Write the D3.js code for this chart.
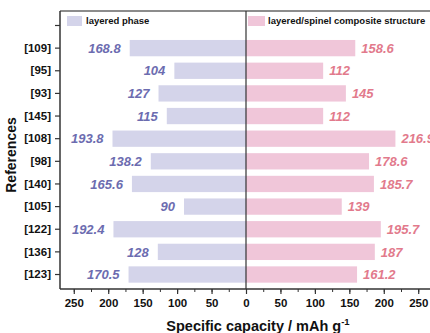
<!DOCTYPE html>
<html>
<head>
<meta charset="utf-8">
<script src="https://cdn.jsdelivr.net/npm/d3@7"></script>
<style>
  body { margin: 0; background: #fff; }
  text { font-family: "Liberation Sans", Arial, sans-serif; font-weight: bold; }
</style>
</head>
<body>
<div id="chart"></div>
<script>
// references, top to bottom (first slot is empty, legend sits there)
const refs = ['', '[109]', '[95]', '[93]', '[145]', '[108]', '[98]', '[140]', '[105]', '[122]', '[136]', '[123]'];
const layered = [null, 168.8, 104, 127, 115, 193.8, 138.2, 165.6, 90, 192.4, 128, 170.5];
const composite = [null, 158.6, 112, 145, 112, 216.9, 178.6, 185.7, 139, 195.7, 187, 161.2];
const xTicks = [-250, -200, -150, -100, -50, 0, 50, 100, 150, 200, 250];
const seriesNames = ['layered phase', 'layered/spinel composite structure'];

const width = 430, height = 333;
const margin = { top: 11, left: 60, bottom: 44 };

const svg = d3.select('#chart').append('svg')
  .attr('width', width)
  .attr('height', height);

const x = d3.scaleLinear()
  .domain([-270, 270])
  .range([margin.left, margin.left + 372]);

const y = d3.scaleBand()
  .domain(refs.map((d, i) => i))
  .range([margin.top, height - margin.bottom])
  .padding(0.28);

const rows = refs.map((r, i) => ({ i: i, ref: r, a: layered[i], b: composite[i] })).filter(d => d.a != null);

// bars
svg.selectAll('.barA').data(rows).enter().append('rect')
  .attr('x', d => x(-d.a))
  .attr('y', d => y(d.i))
  .attr('width', d => x(0) - x(-d.a))
  .attr('height', y.bandwidth())
  .attr('fill', '#d4d4ea');

svg.selectAll('.barB').data(rows).enter().append('rect')
  .attr('x', x(0))
  .attr('y', d => y(d.i))
  .attr('width', d => x(d.b) - x(0))
  .attr('height', y.bandwidth())
  .attr('fill', '#f0c6d9');

// value labels
svg.selectAll('.labA').data(rows).enter().append('text')
  .attr('x', d => x(-d.a) - 9)
  .attr('y', d => y(d.i) + y.bandwidth() / 2)
  .attr('dy', '0.36em')
  .attr('text-anchor', 'end')
  .attr('font-style', 'italic')
  .attr('font-size', 13)
  .attr('fill', '#6c6cb0')
  .text(d => d.a);

svg.selectAll('.labB').data(rows).enter().append('text')
  .attr('x', d => x(d.b) + 6)
  .attr('y', d => y(d.i) + y.bandwidth() / 2)
  .attr('dy', '0.36em')
  .attr('font-style', 'italic')
  .attr('font-size', 13)
  .attr('fill', '#e27a8c')
  .text(d => d.b);

// frame top
svg.append('line')
  .attr('x1', margin.left).attr('x2', width)
  .attr('y1', margin.top).attr('y2', margin.top)
  .attr('stroke', '#666').attr('stroke-width', 1.5);

// zero line
svg.append('line')
  .attr('x1', x(0)).attr('x2', x(0))
  .attr('y1', margin.top).attr('y2', height - margin.bottom)
  .attr('stroke', '#333').attr('stroke-width', 1.2);

// bottom axis
const bottom = svg.append('g')
  .attr('transform', 'translate(0,' + (height - margin.bottom) + ')');

bottom.call(d3.axisBottom(x).tickValues(d3.range(-250, 251, 25)).tickSize(3).tickFormat(''))
  .call(g => g.select('.domain').remove())
  .selectAll('line').attr('stroke', '#333');

bottom.append('g')
  .call(d3.axisBottom(x).tickValues(xTicks).tickSize(5).tickPadding(5).tickFormat(d => Math.abs(d)))
  .call(g => g.select('.domain').remove())
  .call(g => g.selectAll('line').attr('stroke', '#333').attr('stroke-width', 1.2))
  .call(g => g.selectAll('text').attr('font-size', 11.5).attr('fill', '#111'));

bottom.append('line')
  .attr('x1', margin.left).attr('x2', width)
  .attr('stroke', '#333').attr('stroke-width', 1.5);

// left axis
const left = svg.append('g')
  .attr('transform', 'translate(' + margin.left + ',0)')
  .call(d3.axisLeft(y).tickSize(5).tickPadding(4).tickFormat(i => refs[i]));
left.select('.domain').attr('stroke', '#333').attr('stroke-width', 1.5).attr('d', 'M0,' + margin.top + 'V' + (height - margin.bottom));
left.selectAll('line').attr('stroke', '#333').attr('stroke-width', 1.2);
left.selectAll('text').attr('font-size', 11.5).attr('fill', '#111');

// legend
const legX = [67, 248];
seriesNames.forEach((name, k) => {
  svg.append('rect')
    .attr('x', legX[k]).attr('y', 16)
    .attr('width', k === 0 ? 15 : 17).attr('height', 10)
    .attr('fill', k === 0 ? '#d4d4ea' : '#f0c6d9');
  svg.append('text')
    .attr('x', legX[k] + (k === 0 ? 19 : 20)).attr('y', 21)
    .attr('dy', '0.35em')
    .attr('font-size', 9.5)
    .attr('fill', '#111')
    .text(name);
});

// axis titles
svg.append('text')
  .attr('transform', 'translate(16,' + ((margin.top + height - margin.bottom) / 2 + 5) + ') rotate(-90)')
  .attr('text-anchor', 'middle')
  .attr('font-size', 14)
  .attr('fill', '#111')
  .text('References');

const xt = svg.append('text')
  .attr('x', 258).attr('y', 331)
  .attr('text-anchor', 'middle')
  .attr('font-size', 14.5)
  .attr('fill', '#111');
xt.append('tspan').text('Specific capacity / mAh g');
xt.append('tspan').attr('dy', -6).attr('font-size', 9.5).text('-1');
</script>
</body>
</html>
